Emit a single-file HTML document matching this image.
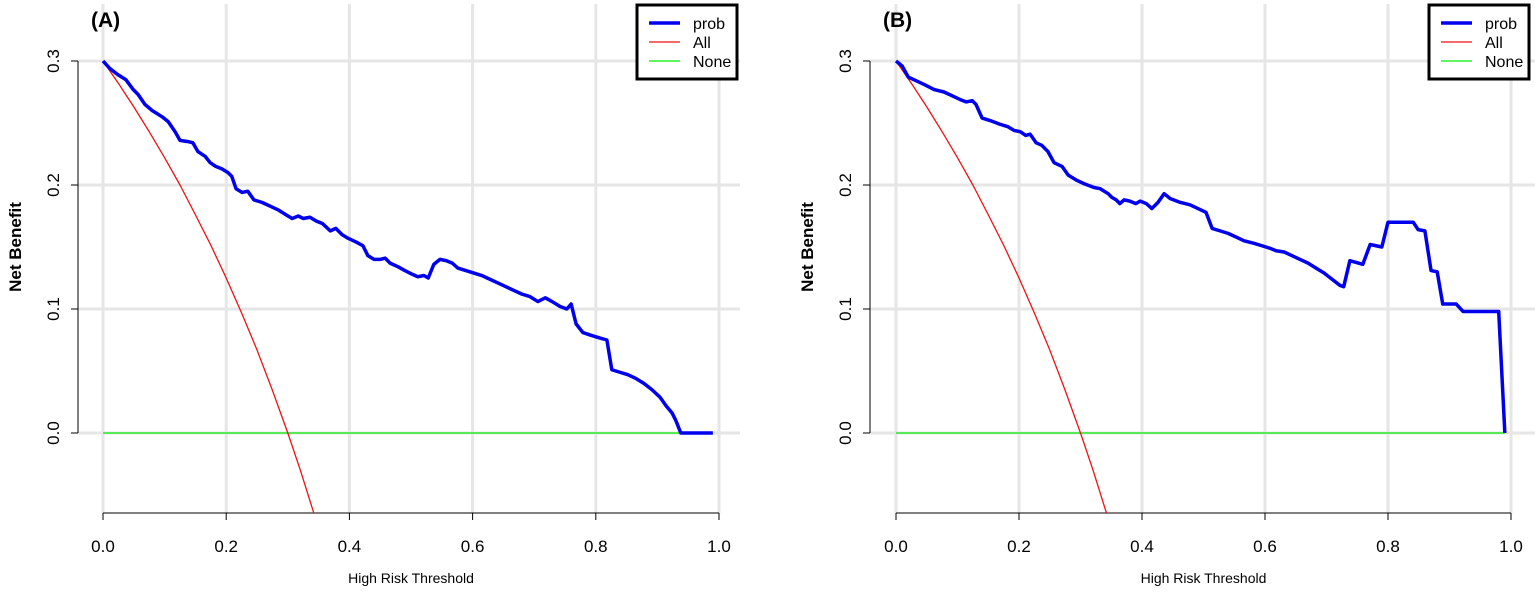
<!DOCTYPE html>
<html><head><meta charset="utf-8"><style>
body{margin:0;background:#fff}
svg{display:block;font-family:"Liberation Sans",Arial,sans-serif}
</style></head><body>
<svg id="chart" width="1535" height="592" viewBox="0 0 1535 592" xmlns="http://www.w3.org/2000/svg"></svg>
<script>
const xTicks=[0,0.2,0.4,0.6,0.8,1.0];
const xTickLabels=["0.0","0.2","0.4","0.6","0.8","1.0"];
const yTicks=[0,0.1,0.2,0.3];
const yTickLabels=["0.0","0.1","0.2","0.3"];
const allT=[0,0.025,0.05,0.075,0.1,0.125,0.15,0.175,0.2,0.225,0.25,0.275,0.3,0.32,0.34,0.345];
const allNB=[0.3,0.282,0.263,0.243,0.222,0.2,0.176,0.1515,0.125,0.0968,0.067,0.0345,0,-0.0294,-0.061,-0.0687];
const noneT=[0,0.99];
const noneNB=[0,0];
const probAT=[0,0.011,0.024,0.037,0.049,0.057,0.068,0.080,0.096,0.106,0.117,0.125,0.138,0.146,0.154,0.166,0.174,0.183,0.193,0.203,0.209,0.216,0.226,0.235,0.245,0.258,0.271,0.284,0.297,0.307,0.317,0.325,0.336,0.346,0.356,0.369,0.378,0.388,0.398,0.411,0.422,0.430,0.440,0.450,0.458,0.466,0.479,0.490,0.502,0.511,0.521,0.528,0.537,0.547,0.557,0.567,0.576,0.589,0.602,0.615,0.628,0.641,0.654,0.667,0.680,0.693,0.706,0.718,0.729,0.742,0.753,0.760,0.768,0.779,0.791,0.804,0.818,0.826,0.839,0.852,0.865,0.878,0.891,0.904,0.914,0.924,0.930,0.938,0.99];
const probANB=[0.300,0.294,0.289,0.285,0.277,0.273,0.265,0.260,0.255,0.251,0.243,0.236,0.235,0.234,0.227,0.223,0.218,0.215,0.213,0.210,0.207,0.197,0.194,0.195,0.188,0.186,0.183,0.180,0.176,0.173,0.175,0.173,0.174,0.171,0.169,0.163,0.165,0.160,0.157,0.154,0.151,0.143,0.140,0.140,0.141,0.137,0.134,0.131,0.128,0.126,0.127,0.125,0.136,0.140,0.139,0.137,0.133,0.131,0.129,0.127,0.124,0.121,0.118,0.115,0.112,0.110,0.106,0.109,0.106,0.102,0.100,0.104,0.088,0.081,0.079,0.077,0.075,0.051,0.049,0.047,0.044,0.040,0.035,0.029,0.022,0.016,0.010,0,0];
const probBT=[0,0.010,0.020,0.033,0.046,0.062,0.078,0.091,0.104,0.114,0.124,0.130,0.140,0.153,0.169,0.182,0.192,0.202,0.211,0.218,0.228,0.237,0.247,0.257,0.270,0.280,0.293,0.306,0.322,0.332,0.345,0.351,0.358,0.364,0.371,0.380,0.390,0.397,0.407,0.416,0.426,0.436,0.446,0.462,0.478,0.491,0.504,0.514,0.527,0.540,0.553,0.566,0.582,0.595,0.608,0.618,0.631,0.644,0.657,0.670,0.683,0.696,0.709,0.722,0.728,0.738,0.759,0.771,0.790,0.800,0.841,0.849,0.860,0.870,0.880,0.889,0.911,0.922,0.980,0.990];
const probBNB=[0.300,0.296,0.287,0.284,0.281,0.277,0.275,0.272,0.269,0.267,0.268,0.265,0.254,0.252,0.249,0.247,0.244,0.243,0.240,0.241,0.234,0.232,0.227,0.218,0.215,0.208,0.204,0.201,0.198,0.197,0.193,0.190,0.188,0.185,0.188,0.187,0.185,0.187,0.185,0.181,0.186,0.193,0.189,0.186,0.184,0.181,0.178,0.165,0.163,0.161,0.158,0.155,0.153,0.151,0.149,0.147,0.146,0.143,0.140,0.137,0.133,0.129,0.124,0.119,0.118,0.139,0.136,0.152,0.150,0.170,0.170,0.164,0.163,0.131,0.130,0.104,0.104,0.098,0.098,0.000];

const NS="http://www.w3.org/2000/svg";
const svg=document.getElementById('chart');
function mk(tag,attrs,parent){const e=document.createElementNS(NS,tag);for(const k in attrs)e.setAttribute(k,attrs[k]);(parent||svg).appendChild(e);return e;}

function panel(cfg){
  const g=mk('g',{});
  
  
  const sx=v=>cfg.x0+v*(cfg.x1-cfg.x0);
  const sy=v=>433-v*1240;
  const clipId='clip-'+cfg.name;
  const cp=mk('clipPath',{id:clipId},g);
  mk('rect',{x:cfg.gl,y:0,width:cfg.gr-cfg.gl,height:513},cp);
  xTicks.forEach(t=>{const l=mk('line',{x1:sx(t),x2:sx(t),y1:4,y2:513,stroke:'#e6e6e6','stroke-width':3},g);
    });
  yTicks.forEach(t=>{const l=mk('line',{x1:cfg.gl,x2:cfg.gr,y1:sy(t),y2:sy(t),stroke:'#e6e6e6','stroke-width':3},g);
    });
  const xa=mk('g',{},g);
  
  mk('line',{x1:sx(0),x2:sx(1),y1:513,y2:513,stroke:'#000','stroke-width':1},xa);
  xTicks.forEach((t,i)=>{mk('line',{x1:sx(t),x2:sx(t),y1:513,y2:520,stroke:'#000'},xa);
    const tx=mk('text',{x:sx(t),y:552,'text-anchor':'middle','font-size':17,fill:'#000'},xa);tx.textContent=xTickLabels[i];
    });
  const xt=mk('text',{x:sx(0.5),y:583,'text-anchor':'middle','font-size':14,fill:'#000'},g);xt.textContent='High Risk Threshold';
  
  const ya=mk('g',{},g);
  
  mk('line',{x1:cfg.gl,x2:cfg.gl,y1:sy(0.3),y2:sy(0),stroke:'#000'},ya);
  yTicks.forEach((t,i)=>{mk('line',{x1:cfg.gl-7,x2:cfg.gl,y1:sy(t),y2:sy(t),stroke:'#000'},ya);
    const tx=mk('text',{x:cfg.gl-19,y:sy(t),'text-anchor':'middle','font-size':17,fill:'#000',transform:`rotate(-90 ${cfg.gl-19} ${sy(t)})`},ya);tx.textContent=yTickLabels[i];
    });
  const yt=mk('text',{x:cfg.gl-57,y:247,'text-anchor':'middle','font-size':17,'font-weight':'bold',fill:'#000',transform:`rotate(-90 ${cfg.gl-57} 247)`},g);yt.textContent='Net Benefit';
  
  const ti=mk('text',{x:cfg.gl+13,y:27,'font-size':21,'font-weight':'bold',fill:'#000'},g);ti.textContent=cfg.title;
  
  const sg=mk('g',{'clip-path':`url(#${clipId})`},g);
  function line(xs,ys,col,w,name){const p=mk('polyline',{points:xs.map((t,i)=>sx(t)+','+sy(ys[i])).join(' '),fill:'none',stroke:col,'stroke-width':w,'stroke-linejoin':'round'},sg);
    }
  line(noneT,noneNB,'#00ee00',1.3,'none-series-line');
  line(allT,allNB,'#ee1111',1.3,'all-series-line');
  line(cfg.pt,cfg.pnb,'#0000ee',3.5,'prob-series-line');
  const lg=mk('g',{},g);
  
  mk('rect',{x:cfg.lx,y:5,width:cfg.lw,height:74,fill:'#fff',stroke:'#000','stroke-width':3},lg);
  [['prob','#0000ee',3.5],['All','#ee1111',1.3],['None','#00ee00',1.3]].forEach((e,i)=>{
    const eg=mk('g',{},lg);
    
    const y=23+i*19;
    mk('line',{x1:cfg.lx+12,x2:cfg.lx+43,y1:y,y2:y,stroke:e[1],'stroke-width':e[2]},eg);
    const t=mk('text',{x:cfg.lx+56,y:y+6,'font-size':16,fill:'#000'},eg);t.textContent=e[0];
  });
}
panel({name:'panel-a',title:'(A)',x0:103,x1:719,gl:78,gr:740,pt:probAT,pnb:probANB,lx:637,lw:100});
panel({name:'panel-b',title:'(B)',x0:896,x1:1511,gl:870,gr:1535,pt:probBT,pnb:probBNB,lx:1429,lw:100});
</script>
</body></html>
